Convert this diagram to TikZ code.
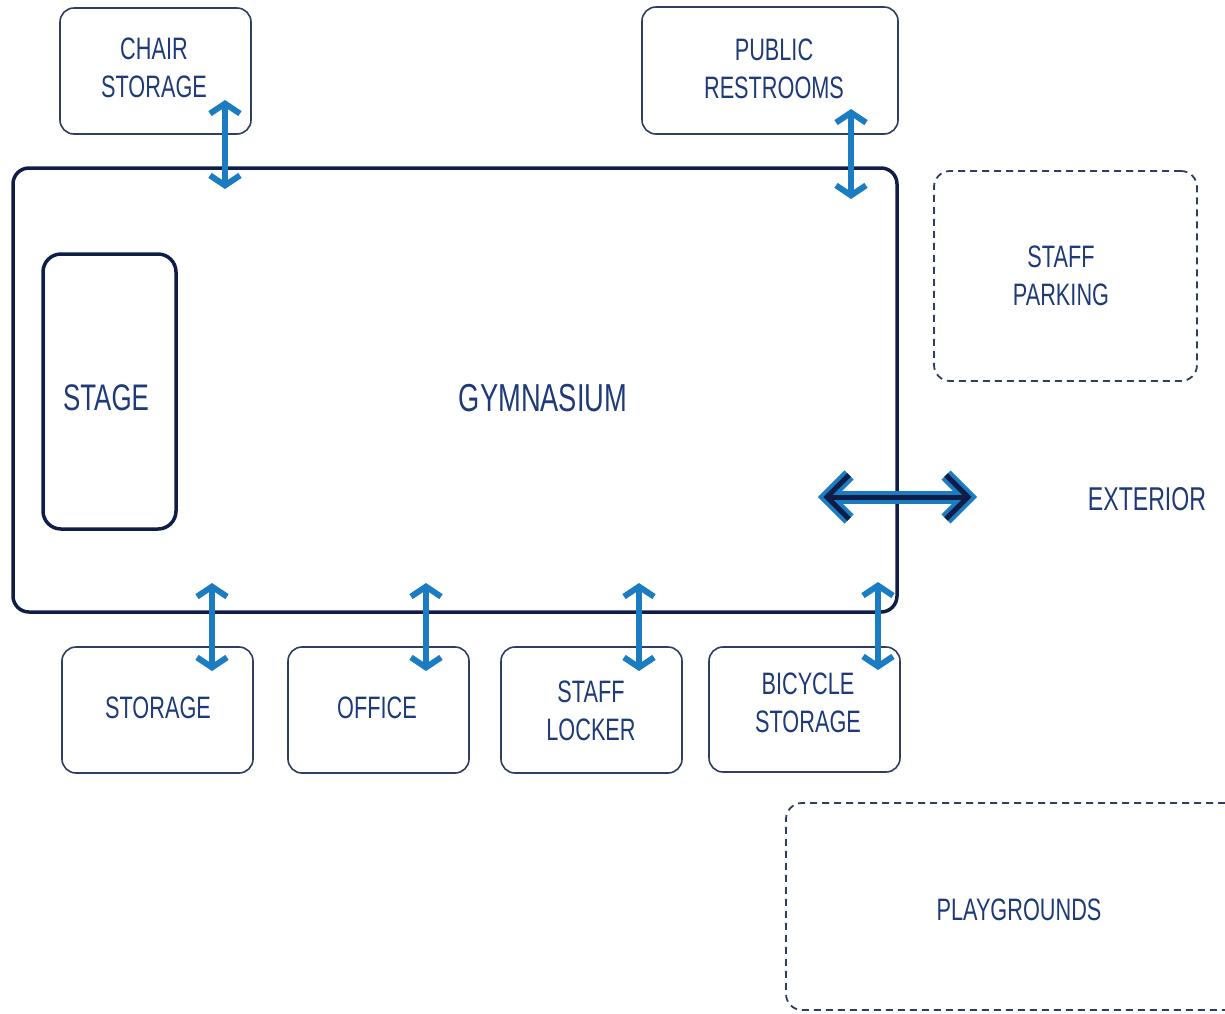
\documentclass[tikz,border=0pt]{standalone}
\usepackage{fontspec}
\setmainfont{Liberation Sans}[FakeStretch=0.7]
\usetikzlibrary{arrows.meta,calc}
\definecolor{navy}{HTML}{1E3A78}
\definecolor{boxline}{HTML}{2E3D62}
\definecolor{gymline}{HTML}{0F1E48}
\definecolor{arrowblue}{HTML}{1B7CC2}
\tikzset{
  room/.style={draw=boxline, line width=1.6pt, rounded corners=14pt, text=navy, align=center, inner sep=0pt},
  outdoor/.style={draw=boxline, line width=1.8pt, dash pattern=on 7pt off 5pt, rounded corners=16pt, text=navy, align=center, inner sep=0pt},
  door/.style={draw=arrowblue, line width=5.5pt, {Straight Barb[length=10pt,width=30pt,line width=6pt]}-{Straight Barb[length=10pt,width=30pt,line width=6pt]}},
  lbl/.style={text=navy, align=center, font=\fontsize{31}{38}\selectfont},
  extouter/.style={draw=arrowblue, line width=13pt, line join=miter, miter limit=10},
  extinner/.style={draw=gymline, line width=5pt, line join=miter, miter limit=10},
}
\begin{document}
\begin{tikzpicture}[x=1pt,y=-1pt]
\useasboundingbox (0,0) rectangle (1225,1013);
% main hall
\node[draw=gymline, line width=3.5pt, rounded corners=16pt, minimum width=884pt, minimum height=444pt, inner sep=0pt] (gym) at (455,390) {};
\node[lbl, font=\fontsize{39}{44}\selectfont] (gymlbl) at (543,398) {GYMNASIUM};
\node[draw=gymline, line width=3.5pt, rounded corners=18pt, minimum width=133pt, minimum height=275pt, inner sep=0pt] (stage) at (109.5,391.5) {};
\node[lbl, font=\fontsize{37}{44}\selectfont] (stagelbl) at (106,398) {STAGE};
% rooms
\node[room, minimum width=191pt, minimum height=126pt] (chair) at (155.5,71) {};
\node[lbl] at (154,68) {CHAIR\\STORAGE};
\node[room, minimum width=256pt, minimum height=127pt] (rest) at (770,70.5) {};
\node[lbl] at (774,69) {PUBLIC\\RESTROOMS};
\node[room, minimum width=191pt, minimum height=126pt] (stor) at (157.5,710) {};
\node[lbl] at (158,708) {STORAGE};
\node[room, minimum width=181pt, minimum height=126pt] (office) at (378.5,710) {};
\node[lbl] at (377,708) {OFFICE};
\node[room, minimum width=181pt, minimum height=126pt] (locker) at (591.5,710) {};
\node[lbl] at (591,711) {STAFF\\LOCKER};
\node[room, minimum width=191pt, minimum height=125pt] (bike) at (804.5,709.5) {};
\node[lbl] at (808,703) {BICYCLE\\STORAGE};
% outdoor areas
\node[outdoor, minimum width=263pt, minimum height=210pt] (park) at (1065.5,276) {};
\node[lbl] at (1061,276) {STAFF\\PARKING};
\draw[draw=boxline, line width=1.8pt, dash pattern=on 7pt off 5pt, rounded corners=16pt]
  (1225,803) -- (786,803) -- (786,1010) -- (1225,1010);
\node[lbl] (play) at (1019,910) {PLAYGROUNDS};
\node[lbl, font=\fontsize{33}{40}\selectfont] (ext) at (1147,499) {EXTERIOR};
% doors
\coordinate (c1) at (225,100); \coordinate (c2) at (225,189);
\coordinate (r1) at (851,109); \coordinate (r2) at (851,199);
\coordinate (s1) at (212,583); \coordinate (s2) at (212,671);
\coordinate (o1) at (426,583); \coordinate (o2) at (426,671);
\coordinate (l1) at (639,583); \coordinate (l2) at (639,671);
\coordinate (b1) at (878,582); \coordinate (b2) at (878,670);
\coordinate (e1) at (827,497); \coordinate (e2) at (968,497);
\draw[door] (c1) -- (c2);
\draw[door] (r1) -- (r2);
\draw[door] (s1) -- (s2);
\draw[door] (o1) -- (o2);
\draw[door] (l1) -- (l2);
\draw[door] (b1) -- (b2);
% exterior double arrow
\draw[extouter] (e1) -- (e2);
\draw[extouter] ($(e1)+(22,-22)$) -- (e1) -- ($(e1)+(22,22)$);
\draw[extouter] ($(e2)+(-22,-22)$) -- (e2) -- ($(e2)+(-22,22)$);
\draw[extinner] (e1) -- (e2);
\draw[extinner] ($(e1)+(22,-22)$) -- (e1) -- ($(e1)+(22,22)$);
\draw[extinner] ($(e2)+(-22,-22)$) -- (e2) -- ($(e2)+(-22,22)$);
\end{tikzpicture}
\end{document}
